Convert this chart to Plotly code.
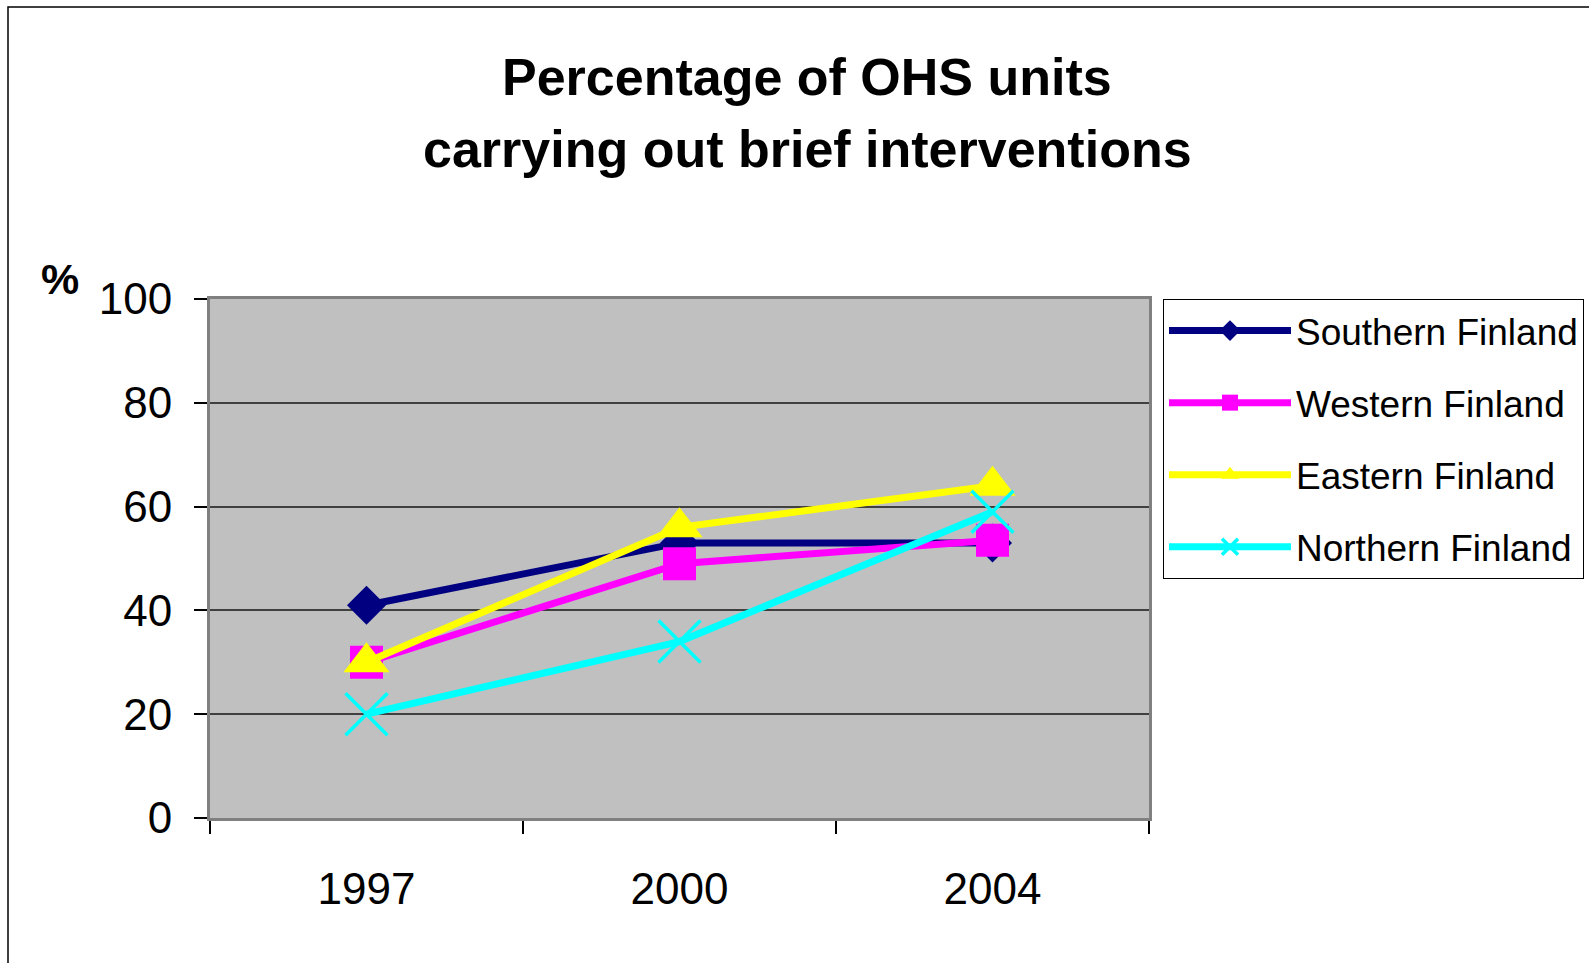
import plotly.graph_objects as go

years = ["1997", "2000", "2004"]
southern = [41, 53, 53]
western = [30, 49, 53.5]
eastern = [30, 56, 64]
northern = [20, 34, 59]
y_ticks = [0, 20, 40, 60, 80, 100]

series = [
    ("Southern Finland", southern, "#000080", "diamond", 30, 0),
    ("Western Finland", western, "#FF00FF", "square", 33, 0),
    ("Eastern Finland", eastern, "#FFFF00", "triangle-up", 40, 0),
    ("Northern Finland", northern, "#00FFFF", "x-thin-open", 42, 3.5),
]

FONT = "Liberation Sans, Arial, sans-serif"

fig = go.Figure()
for i, (name, vals, col, sym, size, mlw) in enumerate(series):
    fig.add_trace(go.Scatter(
        x=years, y=vals, name=name, mode="lines+markers",
        legendgroup=f"g{i}",
        line=dict(color=col, width=7),
        marker=dict(symbol=sym, size=size, color=col,
                    line=dict(color=col, width=mlw)),
        cliponaxis=False,
    ))

L, R, T, B = 210, 1149, 299, 818
W, H = 1589, 963


def px_x(p):
    return (p - L) / (R - L)


def px_y(p):
    return (B - p) / (B - T)


fig.update_layout(
    width=W, height=H,
    margin=dict(l=L, r=W - R, t=T, b=H - B, autoexpand=False),
    paper_bgcolor="white",
    plot_bgcolor="#C0C0C0",
    font=dict(family=FONT, color="black"),
    showlegend=True,
    legend=dict(
        x=px_x(1163), xanchor="left",
        y=1, yanchor="top",
        bgcolor="white", bordercolor="black", borderwidth=1,
        font=dict(size=37, family=FONT, color="black"),
        itemwidth=122,
        tracegroupgap=21,
    ),
    xaxis=dict(
        type="category", range=[-0.5, 2.5],
        showgrid=False, zeroline=False,
        showline=True, linecolor="#808080", linewidth=3, mirror=True,
        ticks="outside", ticklen=13, tickcolor="black", tickwidth=1.5,
        tickson="boundaries",
        tickfont=dict(size=44, family=FONT, color="black"),
        ticklabelstandoff=30,
    ),
    yaxis=dict(
        range=[0, 100], tickvals=y_ticks,
        showgrid=True, gridcolor="#404040", gridwidth=1.8,
        zeroline=False,
        showline=True, linecolor="#808080", linewidth=3, mirror=True,
        ticks="outside", ticklen=13, tickcolor="black", tickwidth=1.5,
        tickfont=dict(size=44, family=FONT, color="black"),
        ticklabelstandoff=13,
    ),
    annotations=[
        dict(text="<b>Percentage of OHS units</b>", xref="paper", yref="paper",
             x=px_x(807), y=px_y(77), xanchor="center", yanchor="middle",
             showarrow=False, font=dict(size=52, family=FONT, color="black")),
        dict(text="<b>carrying out brief interventions</b>", xref="paper", yref="paper",
             x=px_x(807), y=px_y(149), xanchor="center", yanchor="middle",
             showarrow=False, font=dict(size=52, family=FONT, color="black")),
        dict(text="<b>%</b>", xref="paper", yref="paper",
             x=px_x(60), y=px_y(279), xanchor="center", yanchor="middle",
             showarrow=False, font=dict(size=43, family=FONT, color="black")),
    ],
    shapes=[dict(
        type="rect", xref="paper", yref="paper",
        x0=px_x(8), x1=px_x(1700),
        y0=px_y(1100), y1=px_y(7),
        line=dict(color="black", width=1.5), layer="below",
    )],
)

fig.write_html("out.html", config={"displayModeBar": False},
               post_script="document.body.style.margin='0px';document.body.style.overflow='hidden';")
